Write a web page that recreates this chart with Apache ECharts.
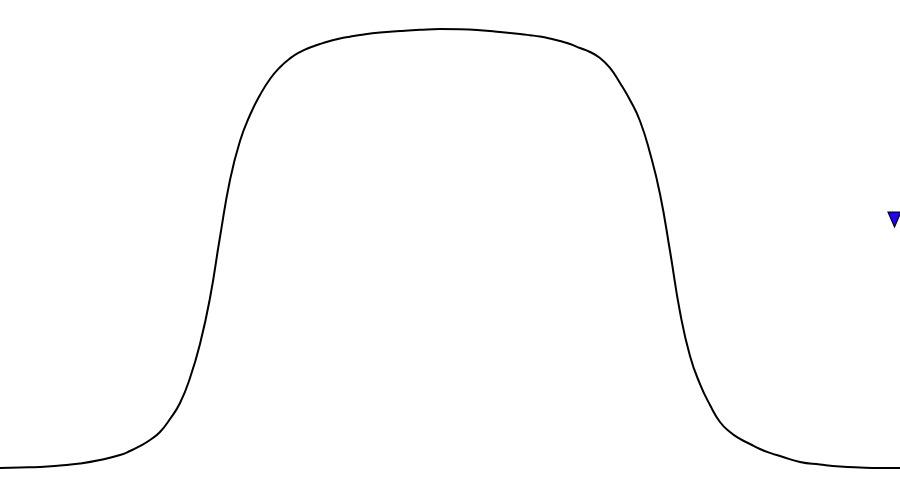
<!DOCTYPE html>
<html>
<head>
<meta charset="utf-8">
<script src="https://cdn.jsdelivr.net/npm/echarts@6/dist/echarts.min.js"></script>
<style>
html,body{margin:0;padding:0;background:#fff;}
#chart{width:900px;height:498px;}
</style>
</head>
<body>
<div id="chart"></div>
<script>
var curveX = [0, 20, 40, 60, 80, 100, 120, 130, 140, 150, 160, 170, 180, 190, 200, 210, 220, 230, 240, 250, 260, 270, 280, 290, 300, 310, 320, 330, 340, 350, 360, 380, 400, 420, 440, 460, 480, 500, 520, 530, 540, 550, 560, 570, 580, 590, 600, 610, 620, 630, 640, 650, 660, 670, 680, 690, 700, 710, 720, 730, 740, 750, 760, 770, 780, 800, 820, 840, 860, 880, 900];
var curveY = [0, 0.11, 0.23, 0.57, 1.03, 1.82, 2.96, 3.87, 5.01, 6.38, 8.20, 11.16, 14.81, 20.50, 28.25, 38.72, 52.62, 65.60, 74.49, 80.41, 84.97, 88.61, 91.30, 93.30, 94.76, 95.79, 96.58, 97.27, 97.84, 98.25, 98.63, 99.20, 99.54, 99.82, 100, 99.95, 99.73, 99.32, 98.86, 98.59, 98.29, 97.84, 97.27, 96.58, 95.67, 94.76, 93.39, 91.12, 87.70, 83.83, 79.04, 71.75, 62.41, 49.43, 35.54, 25.51, 19.13, 14.35, 10.48, 8.20, 6.61, 5.47, 4.33, 3.45, 2.73, 1.37, 0.80, 0.34, 0.11, 0, 0];
var markerX = [894.5];
var markerY = [56.6];

var chart = echarts.init(document.getElementById('chart'), null, {renderer: 'canvas'});
chart.setOption({
  animation: false,
  backgroundColor: '#ffffff',
  grid: {left: 0, right: 0, top: 29, bottom: 30},
  xAxis: {type: 'value', min: 0, max: 900, show: false},
  yAxis: {type: 'value', min: 0, max: 100, show: false},
  series: [
    {
      type: 'line',
      data: curveX.map(function (x, i) { return [x, curveY[i]]; }),
      smooth: 0.5,
      showSymbol: false,
      lineStyle: {color: '#000000', width: 2},
      clip: false
    },
    {
      type: 'scatter',
      data: markerX.map(function (x, i) { return [x, markerY[i]]; }),
      symbol: 'triangle',
      symbolRotate: 180,
      symbolSize: [13, 15],
      itemStyle: {color: '#2200ff', borderColor: '#000000', borderWidth: 1.2, opacity: 1},
      clip: false
    }
  ]
});
</script>
</body>
</html>
